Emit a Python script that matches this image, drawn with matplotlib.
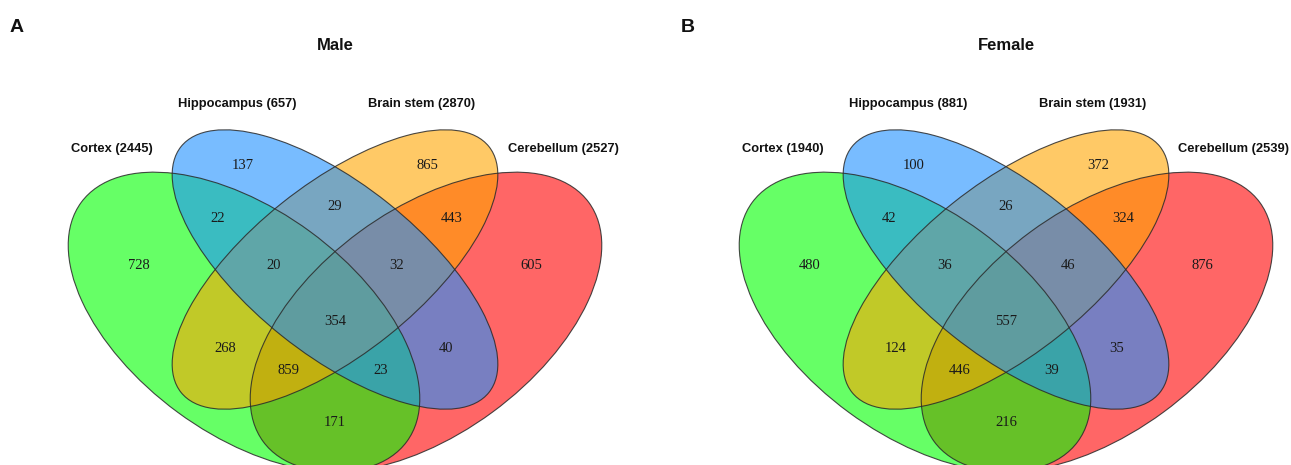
import numpy as np
import matplotlib.pyplot as plt
from matplotlib.patches import Ellipse

# sets: Cortex, Hippocampus, Brain stem, Cerebellum
set_names = ["Cortex", "Hippocampus", "Brain stem", "Cerebellum"]
set_keys = ["C", "H", "B", "E"]

# regions, named by the sets they belong to
region_keys = ["C", "H", "B", "E", "CH", "HB", "BE", "CHB", "HBE",
               "CHBE", "CB", "CBE", "CHE", "HE", "CE"]
male_counts = [728, 137, 865, 605, 22, 29, 443, 20, 32,
               354, 268, 859, 23, 40, 171]
female_counts = [480, 100, 372, 876, 42, 26, 324, 36, 46,
                 557, 124, 446, 39, 35, 216]

panels = [("A", "Male", male_counts), ("B", "Female", female_counts)]

# layout (pixels, relative to the centre line of each panel)
panel_cx = [335, 1006]
region_pos = {"C": (-196, 265), "H": (-92, 165), "B": (92, 165), "E": (196, 265),
              "CH": (-117, 218), "HB": (0, 206), "BE": (117, 218),
              "CHB": (-61, 265), "HBE": (62, 265), "CHBE": (0, 321),
              "CB": (-110, 348), "CBE": (-46, 370), "CHE": (46, 370),
              "HE": (111, 348), "CE": (0, 422)}
label_pos = {"C": (-223, 149), "H": (-98, 104), "B": (87, 104), "E": (228, 149)}
# ellipse: dx, cy, half major, half minor, angle (y axis points down)
ellipses = {"C": (-91, 322, 202, 112, 36.3), "H": (0, 269.5, 197, 85, 38.6),
            "B": (0, 269.5, 197, 85, -38.6), "E": (91, 322, 202, 112, -36.3)}
colors = {"C": "#00FF00", "H": "#1E90FF", "B": "#FFA500", "E": "#FF0000"}
draw_order = ["E", "C", "B", "H"]

plt.rcParams['font.family'] = ['Liberation Sans', 'DejaVu Sans']

fig = plt.figure(figsize=(12.91, 4.65), dpi=100)
ax = fig.add_axes([0, 0, 1, 1])
ax.set_xlim(0, 1291)
ax.set_ylim(465, 0)
ax.axis('off')

for cx, (letter, title, counts) in zip(panel_cx, panels):
    # fills first, outlines on top
    for k in draw_order:
        dx, cy, a, b, ang = ellipses[k]
        ax.add_patch(Ellipse((cx + dx, cy), 2 * a, 2 * b, angle=ang,
                             facecolor=colors[k], alpha=0.6, edgecolor='none'))
    for k in draw_order:
        dx, cy, a, b, ang = ellipses[k]
        ax.add_patch(Ellipse((cx + dx, cy), 2 * a, 2 * b, angle=ang,
                             facecolor='none', edgecolor='#2a2a2a', lw=0.8, alpha=0.85))

    for key, n in zip(region_keys, counts):
        px, py = region_pos[key]
        ax.text(cx + px, py, str(n), ha='center', va='center', fontsize=10.5,
                family='Liberation Serif', color='#1a1a1a')

    for sk, name in zip(set_keys, set_names):
        total = sum(n for key, n in zip(region_keys, counts) if sk in key)
        px, py = label_pos[sk]
        ax.text(cx + px, py, "%s (%d)" % (name, total), ha='center', va='center',
                fontsize=9.3, fontweight='bold', color='#111111')

    ax.text(cx, 45, title, ha='center', va='center', fontsize=12,
            fontweight='bold', color='#111111')
    ax.text(cx - 318, 28, letter, ha='center', va='center', fontsize=14,
            fontweight='bold', color='#111111')

fig.savefig('out.png', dpi=100)
